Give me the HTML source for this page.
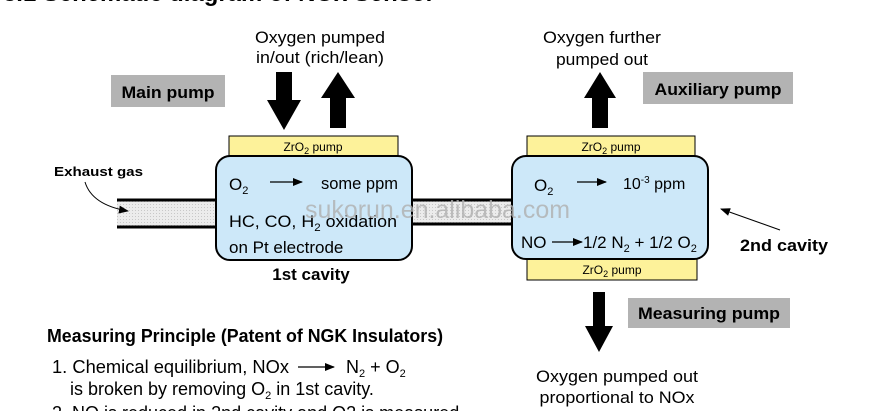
<!DOCTYPE html>
<html><head><meta charset="utf-8"><style>
html,body{margin:0;padding:0;background:#fff;}
svg{display:block;font-family:"Liberation Sans",Arial,sans-serif;}
</style></head><body>
<svg width="875" height="411" viewBox="0 0 875 411" xmlns="http://www.w3.org/2000/svg">
<defs>
<pattern id="dots" width="3" height="3" patternUnits="userSpaceOnUse"><rect width="3" height="3" fill="#ececec"/><rect width="1" height="1" fill="#c8c8c8"/></pattern>
<marker id="ah" markerWidth="10" markerHeight="8" refX="9" refY="4" orient="auto" markerUnits="userSpaceOnUse"><path d="M0,0 L10,4 L0,8 z" fill="#000"/></marker>
</defs>
<text x="3" y="1" font-size="24" font-weight="bold" textLength="432" lengthAdjust="spacingAndGlyphs">3.1   Schematic diagram of NOx Sensor</text>

<!-- tubes -->
<rect x="117" y="199" width="100" height="28" fill="url(#dots)"/>
<line x1="117" y1="200" x2="217" y2="200" stroke="#000" stroke-width="3"/>
<line x1="117" y1="227" x2="217" y2="227" stroke="#000" stroke-width="3"/>
<rect x="410" y="200" width="104" height="24" fill="url(#dots)"/>
<line x1="410" y1="200" x2="514" y2="200" stroke="#000" stroke-width="3"/>
<line x1="410" y1="224" x2="514" y2="224" stroke="#000" stroke-width="3"/>

<!-- exhaust -->
<text x="54" y="176" font-size="13" font-weight="bold" textLength="89" lengthAdjust="spacingAndGlyphs">Exhaust gas</text>
<path d="M85,182 Q92,205 128,211" fill="none" stroke="#000" stroke-width="1" marker-end="url(#ah)"/>

<!-- main pump -->
<rect x="111" y="75" width="114" height="32" fill="#b3b3b3"/>
<text x="168" y="98" font-size="17" font-weight="bold" text-anchor="middle" textLength="93" lengthAdjust="spacingAndGlyphs">Main pump</text>
<text x="320" y="43" font-size="17" text-anchor="middle" textLength="130" lengthAdjust="spacingAndGlyphs">Oxygen pumped</text>
<text x="320" y="63" font-size="17" text-anchor="middle" textLength="128" lengthAdjust="spacingAndGlyphs">in/out (rich/lean)</text>
<path d="M276,72 h16 v28 h9 l-17,30 l-17,-30 h9 z" fill="#000"/>
<path d="M330,128 h16 v-30 h9 l-17,-26 l-17,26 h9 z" fill="#000"/>

<!-- cavity 1 -->
<rect x="229" y="136" width="169" height="20" fill="#fdf29a" stroke="#000" stroke-width="1"/>
<text x="313" y="151" font-size="12" text-anchor="middle">ZrO<tspan font-size="9" dy="3">2</tspan><tspan dy="-3"> pump</tspan></text>
<rect x="216" y="156" width="196" height="104" rx="14" fill="#cde8f9" stroke="#000" stroke-width="2"/>
<text x="229" y="190" font-size="17">O<tspan font-size="11" dy="4">2</tspan></text>
<line x1="270" y1="182" x2="302" y2="182" stroke="#000" stroke-width="1.3" marker-end="url(#ah)"/>
<text x="321" y="189" font-size="17" textLength="77" lengthAdjust="spacingAndGlyphs">some ppm</text>
<text x="229" y="227" font-size="17" textLength="168" lengthAdjust="spacingAndGlyphs">HC, CO, H<tspan font-size="11" dy="4">2</tspan><tspan dy="-4"> oxidation</tspan></text>
<text x="229" y="253" font-size="17">on Pt electrode</text>
<text x="311" y="280" font-size="17" font-weight="bold" text-anchor="middle">1st cavity</text>

<!-- cavity 2 -->
<rect x="527" y="136" width="168" height="20" fill="#fdf29a" stroke="#000" stroke-width="1"/>
<text x="611" y="151" font-size="12" text-anchor="middle">ZrO<tspan font-size="9" dy="3">2</tspan><tspan dy="-3"> pump</tspan></text>
<rect x="527" y="259" width="170" height="21" fill="#fdf29a" stroke="#000" stroke-width="1"/>
<text x="612" y="274" font-size="12" text-anchor="middle">ZrO<tspan font-size="9" dy="3">2</tspan><tspan dy="-3"> pump</tspan></text>
<rect x="512" y="156" width="196" height="103" rx="14" fill="#cde8f9" stroke="#000" stroke-width="2"/>
<text x="534" y="191" font-size="17">O<tspan font-size="11" dy="4">2</tspan></text>
<line x1="577" y1="182" x2="606" y2="182" stroke="#000" stroke-width="1.3" marker-end="url(#ah)"/>
<text x="623" y="189" font-size="16">10<tspan font-size="10" dy="-6">-3</tspan><tspan dy="6"> ppm</tspan></text>
<text x="521" y="248" font-size="17">NO</text>
<line x1="552" y1="242" x2="582" y2="242" stroke="#000" stroke-width="1.3" marker-end="url(#ah)"/>
<text x="583" y="248" font-size="17">1/2 N<tspan font-size="11" dy="4">2</tspan><tspan dy="-4"> + 1/2 O</tspan><tspan font-size="11" dy="4">2</tspan></text>

<text x="305" y="218" font-size="25" fill="#b0b0b0" opacity="0.8" textLength="265" lengthAdjust="spacingAndGlyphs">sukorun.en.alibaba.com</text>

<!-- aux pump -->
<path d="M592,128 h16 v-30 h8 l-16,-26 l-16,26 h8 z" fill="#000"/>
<text x="602" y="43" font-size="17" text-anchor="middle" textLength="118" lengthAdjust="spacingAndGlyphs">Oxygen further</text>
<text x="602" y="65" font-size="17" text-anchor="middle" textLength="92" lengthAdjust="spacingAndGlyphs">pumped out</text>
<rect x="643" y="72" width="150" height="32" fill="#b3b3b3"/>
<text x="718" y="95" font-size="17" font-weight="bold" text-anchor="middle" textLength="127" lengthAdjust="spacingAndGlyphs">Auxiliary pump</text>

<!-- 2nd cavity -->
<text x="740" y="251" font-size="17" font-weight="bold" textLength="88" lengthAdjust="spacingAndGlyphs">2nd cavity</text>
<line x1="780" y1="230" x2="721" y2="209" stroke="#000" stroke-width="1" marker-end="url(#ah)"/>

<!-- measuring pump -->
<path d="M593,292 h12 v34 h8 l-14,26 l-14,-26 h8 z" fill="#000"/>
<rect x="628" y="298" width="162" height="30" fill="#b3b3b3"/>
<text x="709" y="319" font-size="17" font-weight="bold" text-anchor="middle" textLength="142" lengthAdjust="spacingAndGlyphs">Measuring pump</text>
<text x="617" y="382" font-size="17" text-anchor="middle" textLength="162" lengthAdjust="spacingAndGlyphs">Oxygen pumped out</text>
<text x="617" y="403" font-size="17" text-anchor="middle" textLength="155" lengthAdjust="spacingAndGlyphs">proportional to NOx</text>

<!-- principle -->
<text x="47" y="342" font-size="18" font-weight="bold" textLength="396" lengthAdjust="spacingAndGlyphs">Measuring Principle (Patent of NGK Insulators)</text>
<text x="52" y="373" font-size="18" textLength="237" lengthAdjust="spacingAndGlyphs">1. Chemical equilibrium,  NOx</text>
<line x1="298" y1="367" x2="334" y2="367" stroke="#000" stroke-width="1.3" marker-end="url(#ah)"/>
<text x="346" y="373" font-size="18">N<tspan font-size="11" dy="4">2</tspan><tspan dy="-4"> + O</tspan><tspan font-size="11" dy="4">2</tspan></text>
<text x="70" y="395" font-size="18">is broken by removing O<tspan font-size="11" dy="4">2</tspan><tspan dy="-4">  in 1st cavity.</tspan></text>
<text x="52" y="419" font-size="18">2. NO is reduced in 2nd cavity and O2 is measured</text>
</svg>
</body></html>
